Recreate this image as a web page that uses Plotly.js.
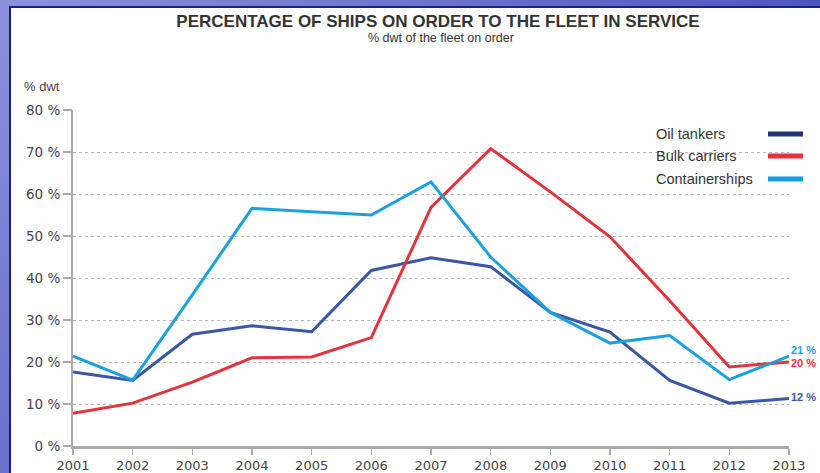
<!DOCTYPE html>
<html><head><meta charset="utf-8">
<script src="https://cdn.plot.ly/plotly-3.0.1.min.js"></script>
<style>
html,body{margin:0;padding:0;width:820px;height:473px;overflow:hidden;}
body{background:linear-gradient(135deg,#8c92dc 0%,#6a72cc 35%,#4650be 70%,#3a44b4 100%);position:relative;}
#panel{position:absolute;left:9px;top:6px;width:811px;height:467px;background:#fff;border-left:2px solid #1a1f90;border-top:2px solid #1a1f90;box-sizing:border-box;}
#chart{position:absolute;left:0;top:0;width:820px;height:473px;}
</style></head>
<body><div id="panel"></div><div id="chart"></div>
<script>
const years = [2001,2002,2003,2004,2005,2006,2007,2008,2009,2010,2011,2012,2013];
const oilTankers = [17.6,15.6,26.6,28.6,27.2,41.8,44.8,42.7,31.8,27.1,15.6,10.2,11.3];
const bulkCarriers = [7.8,10.2,15.2,21.0,21.2,25.8,56.8,70.8,60.5,49.8,34.6,18.8,20.0];
const containerships = [21.4,15.7,36.0,56.6,55.8,55.0,62.9,45.0,31.8,24.5,26.3,15.8,21.4];
const yTicks = [0,10,20,30,40,50,60,70,80];
const yTickText = yTicks.map(v => v + ' %');
const gridTicks = [10,20,30,40,50,60,70];
const seriesNames = ['Oil tankers','Bulk carriers','Containerships'];
const lineColors = ['#3b56a3','#e5323c','#1ba1dc'];
const legendColors = ['#1f3578','#e3343e','#1b9ee0'];
const endLabels = ['12 %','20 %','21 %'];

const allSeries = [oilTankers, bulkCarriers, containerships];
const traces = allSeries.map((s,i) => ({
  x: years, y: s, type:'scatter', mode:'lines', name: seriesNames[i],
  line:{color: lineColors[i], width:3}, hoverinfo:'skip'
}));

const L = 73, R = 789, T = 110, B = 446;
const px = x => (x - L)/(R - L);
const py = y => (B - y)/(B - T);

const annotations = [
  {text:'% dwt', xref:'paper', yref:'paper', x:px(22), y:py(86), xanchor:'left', yanchor:'middle', showarrow:false, font:{family:'Liberation Sans, Arial', size:13, color:'#444'}},
  {text:'% dwt of the fleet on order', xref:'paper', yref:'paper', x:px(441), y:py(38), xanchor:'center', yanchor:'middle', showarrow:false, font:{family:'Liberation Sans, Arial', size:12.5, color:'#333'}}
];
const legY = [134,156,179];
seriesNames.forEach((n,i)=>{
  annotations.push({text:n, xref:'paper', yref:'paper', x:px(654), y:py(legY[i]), xanchor:'left', yanchor:'middle', showarrow:false, font:{family:'Liberation Sans, Arial', size:14.5, color:'#333'}});
});
const endShift = [2, -1, 6];
allSeries.forEach((s,i)=>{
  annotations.push({text:'<b>'+endLabels[i]+'</b>', x:years[years.length-1], y:s[s.length-1], xref:'x', yref:'y', xanchor:'left', yanchor:'middle', xshift:0, yshift:endShift[i], showarrow:false, font:{family:'Liberation Sans, Arial', size:11, color:lineColors[i]}});
});
const shapes = legendColors.map((c,i)=>({type:'line', xref:'paper', yref:'paper', x0:px(768), x1:px(803), y0:py(legY[i]), y1:py(legY[i]), line:{color:c, width:5}}));

const layout = {
  width:820, height:473,
  margin:{l:L, r:820-R, t:T, b:473-B, pad:0},
  paper_bgcolor:'rgba(0,0,0,0)', plot_bgcolor:'rgba(0,0,0,0)',
  showlegend:false,
  title:{text:'PERCENTAGE OF SHIPS ON ORDER TO THE FLEET IN SERVICE', x:438/820, xanchor:'center', y:1-21/473, yanchor:'middle', font:{family:'Liberation Sans, Arial', size:17, color:'#333', weight:700}},
  xaxis:{range:[2001,2013], tickvals:years, ticktext:years.map(String), ticks:'outside', ticklen:6, tickwidth:1.5, tickcolor:'#aaa', showline:true, linecolor:'#aaa', linewidth:2.5, showgrid:false, zeroline:false, tickfont:{family:'DejaVu Sans', size:13, color:'#444'}, fixedrange:true},
  yaxis:{range:[0,80], tickvals:gridTicks, showticklabels:false, ticks:'', showgrid:true, gridcolor:'#b8b8b8', griddash:'dot', gridwidth:1, showline:true, linecolor:'#aaa', linewidth:2.5, zeroline:false, fixedrange:true},
  yaxis2:{range:[0,80], overlaying:'y', side:'left', tickvals:yTicks, ticktext:yTickText, ticks:'outside', ticklen:9, tickwidth:1.5, tickcolor:'#aaa', showgrid:false, showline:false, zeroline:false, tickfont:{family:'DejaVu Sans', size:13.5, color:'#444'}, fixedrange:true},
  annotations, shapes
};
traces.push({x:[2001], y:[0], yaxis:'y2', type:'scatter', mode:'markers', marker:{opacity:0}, hoverinfo:'skip', showlegend:false});
Plotly.newPlot('chart', traces, layout, {staticPlot:true});
</script></body></html>
